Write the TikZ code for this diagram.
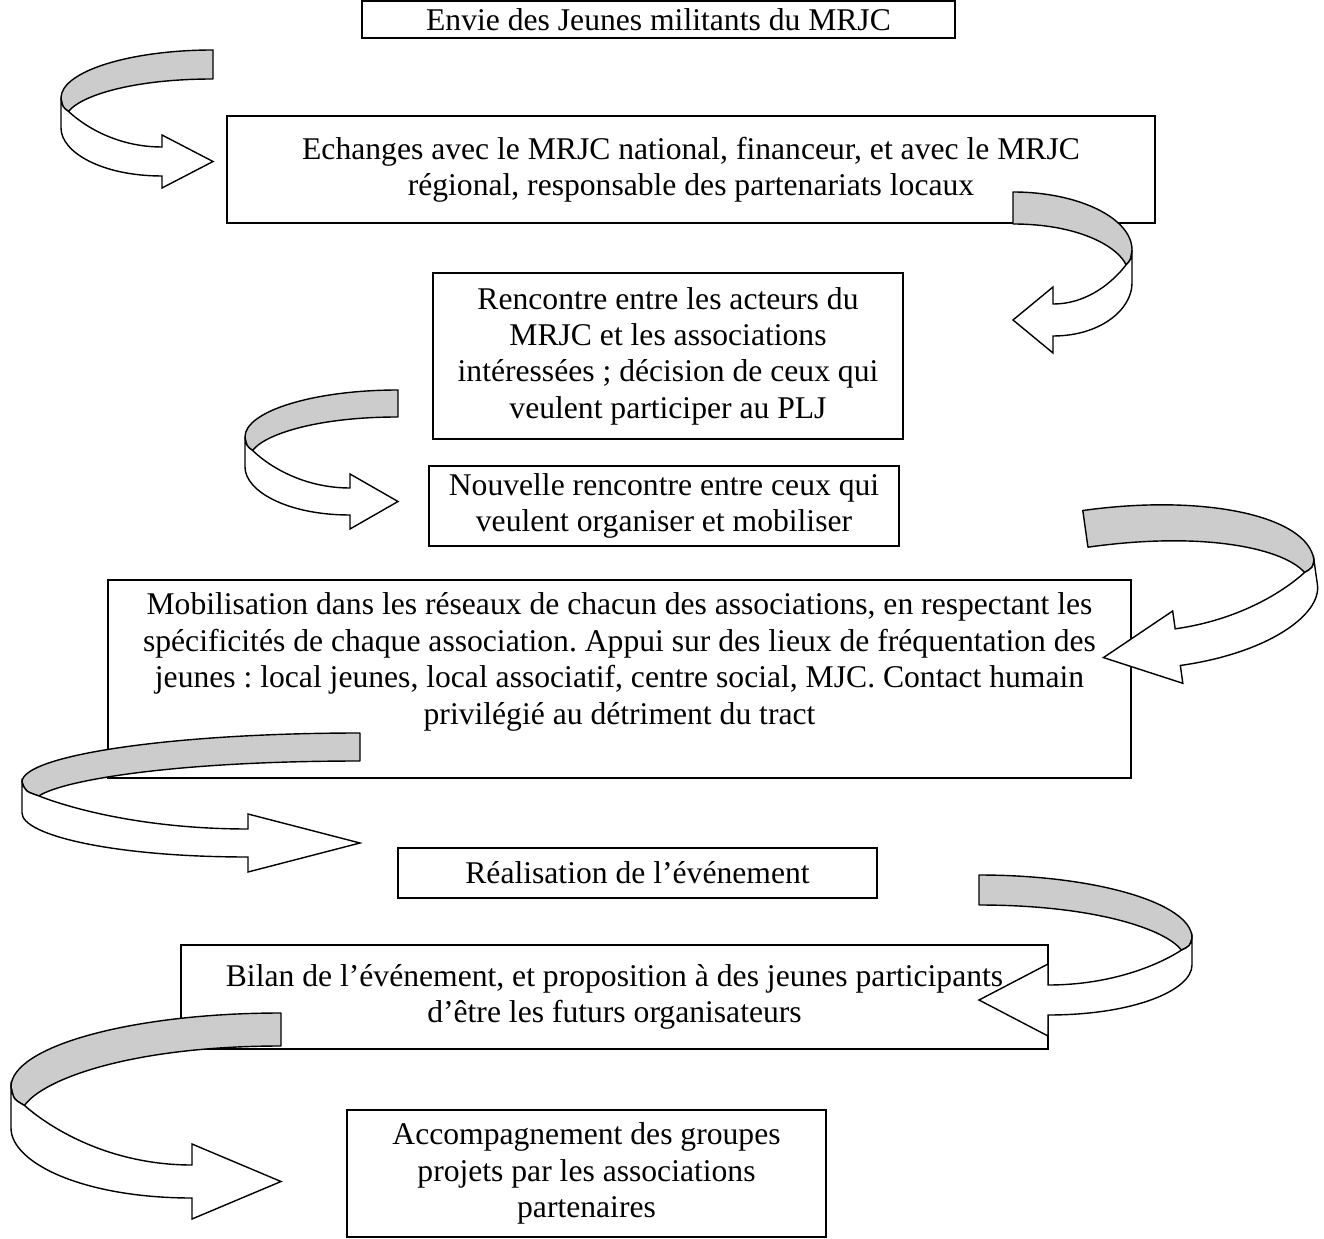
\documentclass[tikz,border=0pt]{standalone}
\usepackage{fontspec}
\setmainfont{Liberation Serif}
\frenchspacing

\tikzset{
  box/.style = {draw, line width=0.9pt, align=center, inner sep=0pt,
                font=\fontsize{18}{20.7}\selectfont},
  dims/.style 2 args = {minimum width=#1*0.02cm, minimum height=#2*0.02cm},
  ribbonback/.style = {draw, line width=0.8pt, fill=black!20, line join=round},
  ribbonfront/.style = {draw, line width=0.8pt, fill=white},
}

% curved ribbon arrow: apex x, end x, top y, width, apex y, edge, head x, shaft y, barb
\newcommand{\ribbonarrow}[9]{
  \filldraw[ribbonback] (#2,#3)
    .. controls ({#2-0.55*(#2-#1)},#3) and (#1,{#5-0.55*(#5-#3)}) .. (#1,#5)
    .. controls ({#1+0.01*(#2-#1)},{#5+0.3*#6}) .. ({#1+0.05*(#2-#1)},{#5+0.45*#6})
    .. controls ({#1+0.12*(#2-#1)},{#5+0.45*#6-0.45*(#5+0.45*#6-#3-#4)}) and ({#2-0.55*(#2-#1)},{#3+#4}) .. (#2,{#3+#4})
    -- cycle;
  \filldraw[ribbonfront] (#1,#5) -- (#1,{#5+#6})
    .. controls (#1,{#5+#6+0.5*(#8-#5-#6)}) and ({#1+0.4*(#7-#1)},#8) .. (#7,#8)
    -- (#7,{#8+#9}) -- (#2,{#8-0.5*#4}) -- (#7,{#8-#4-#9}) -- (#7,{#8-#4})
    .. controls ({#7-0.45*(#7-#1)},{#8-#4}) and ({#1+0.15*(#2-#1)},{#5+0.45*#6+0.4*(#8-#4-#5-0.45*#6)}) .. ({#1+0.05*(#2-#1)},{#5+0.45*#6})
    .. controls ({#1+0.01*(#2-#1)},{#5+0.3*#6}) .. (#1,#5) -- cycle;
}

\begin{document}
\begin{tikzpicture}[x=0.02cm, y=-0.02cm]
  \useasboundingbox (0,0) rectangle (1324,1239);

  \node[box, dims={593}{37}]   (e_1) at (658.5,19.5) {Envie des Jeunes militants du MRJC};
  \node[box, dims={928}{107}]  (e_2) at (691,169.5)  {Echanges avec le MRJC national, financeur, et avec le MRJC\\ régional, responsable des partenariats locaux};
  \node[box, dims={470}{166}]  (e_3) at (668,356)    {Rencontre entre les acteurs du\\ MRJC et les associations\\ intéressées ; décision de ceux qui\\ veulent participer au PLJ};
  \node[box, dims={470}{80}]   (e_4) at (664,506)    {Nouvelle rencontre entre ceux qui\\ veulent organiser et mobiliser};
  \node[box, dims={1023}{198}, text depth=0.82cm] (e_5) at (619.5,679) {Mobilisation dans les réseaux de chacun des associations, en respectant les\\ spécificités de chaque association. Appui sur des lieux de fréquentation des\\ jeunes : local jeunes, local associatif, centre social, MJC. Contact humain\\ privilégié au détriment du tract};
  \node[box, dims={479}{50}]   (e_6) at (637.5,873)  {Réalisation de l’événement};
  \node[box, dims={867}{104}]  (e_7) at (614.5,997)  {Bilan de l’événement, et proposition à des jeunes participants\\ d’être les futurs organisateurs};
  \node[box, dims={479}{127}]  (e_8) at (586.5,1173.5) {Accompagnement des groupes\\ projets par les associations\\ partenaires};

  % arrows between the steps
  \ribbonarrow{61}{213}{50}{29}{98}{30}{162}{176}{12}
  \ribbonarrow{1132}{1013}{192}{32}{250}{33}{1053}{336}{17}
  \ribbonarrow{245}{398}{390}{27}{437}{30}{350}{515}{14}
  \ribbonarrow{22}{360}{733}{28}{782}{31}{248}{857}{15}
  \begin{scope}[rotate around={8:(1200,590)}]
    \ribbonarrow{1317}{1095}{495}{37}{576}{25}{1170}{662}{18}
  \end{scope}
  \ribbonarrow{1192}{979}{875}{30}{938}{27}{1048}{1015}{21}
  \ribbonarrow{11}{281}{1013}{33}{1087}{41}{192}{1198}{21}
\end{tikzpicture}
\end{document}
